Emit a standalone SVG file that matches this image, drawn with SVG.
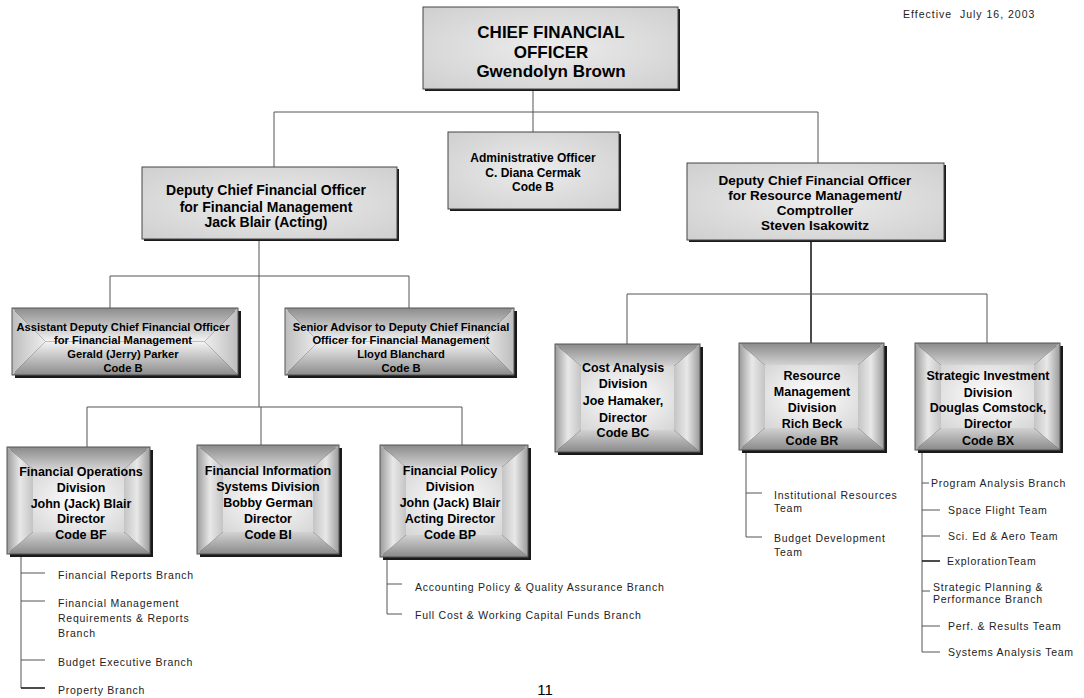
<svg xmlns="http://www.w3.org/2000/svg" width="1084" height="698" viewBox="0 0 1084 698">
<style>
text{font-family:"Liberation Sans",Arial,sans-serif;fill:#000;text-anchor:middle}
.b{font-weight:bold}
.t1{font-size:17px}
.t2{font-size:14px}
.t2r{font-size:13.5px}
.ta{font-size:12px}
.tx{font-size:11.2px}
.td{font-size:12.5px}
.tl{font-size:10.5px;letter-spacing:.75px;text-anchor:start;fill:#222}
.c{stroke:#555;stroke-width:1;fill:none}
.ck{stroke:#111;stroke-width:1.5;fill:none}
.sh{fill:#1a1a1a}
.bd{fill:none;stroke:#555;stroke-width:1}
.pl{fill:url(#pl);stroke:#444;stroke-width:1}
</style>
<defs>
<radialGradient id="pl" cx="0.5" cy="0.5" r="0.7"><stop offset="0" stop-color="#ececec"/><stop offset="1" stop-color="#cfcfcf"/></radialGradient>
<linearGradient id="gT" x1="0" y1="0" x2="0" y2="1"><stop offset="0" stop-color="#8a8a8a"/><stop offset="1" stop-color="#d2d2d2"/></linearGradient>
<linearGradient id="gB" x1="0" y1="0" x2="0" y2="1"><stop offset="0" stop-color="#d2d2d2"/><stop offset="1" stop-color="#8a8a8a"/></linearGradient>
<linearGradient id="gL" x1="0" y1="0" x2="1" y2="0"><stop offset="0" stop-color="#9a9a9a"/><stop offset="0.5" stop-color="#e8e8e8"/><stop offset="1" stop-color="#c4c4c4"/></linearGradient>
<linearGradient id="gR" x1="0" y1="0" x2="1" y2="0"><stop offset="0" stop-color="#c4c4c4"/><stop offset="0.5" stop-color="#e8e8e8"/><stop offset="1" stop-color="#9a9a9a"/></linearGradient>
<radialGradient id="gC" cx="0.5" cy="0.5" r="0.7"><stop offset="0" stop-color="#ffffff"/><stop offset="1" stop-color="#d6d6d6"/></radialGradient>
<linearGradient id="xT" x1="0" y1="0" x2="0" y2="1"><stop offset="0" stop-color="#8c8c8c"/><stop offset="1" stop-color="#f4f4f4"/></linearGradient>
<linearGradient id="xB" x1="0" y1="0" x2="0" y2="1"><stop offset="0" stop-color="#f4f4f4"/><stop offset="1" stop-color="#8c8c8c"/></linearGradient>
<linearGradient id="xL" x1="0" y1="0" x2="1" y2="0"><stop offset="0" stop-color="#bdbdbd"/><stop offset="1" stop-color="#eeeeee"/></linearGradient>
<linearGradient id="xR" x1="0" y1="0" x2="1" y2="0"><stop offset="0" stop-color="#eeeeee"/><stop offset="1" stop-color="#bdbdbd"/></linearGradient>
</defs>
<rect width="1084" height="698" fill="#fff"/>

<g id="connectors">
<path class="c" d="M533 90V132M274 112H818M274 112V167M818 112V163"/>
<path class="c" d="M259 240V407M110 276H409M110 276V308M409 276V308"/>
<path class="c" d="M87 407H462M87 407V447M261 407V445M462 407V445"/>
<path class="ck" d="M811 241V343"/>
<path class="c" d="M627 294H987M627 294V344M987 294V343"/>
<path class="c" d="M21 554V688M21 573H45M21 601H45M21 660H45"/>
<path class="ck" d="M21 688H45"/>
<path class="c" d="M387 557V614H402M387 584H402"/>
<path class="c" d="M746 450V537H762M746 493H762"/>
<path class="c" d="M922 450V652H940M922 483H929M922 510H940M922 536H940M922 591H930M922 626H940"/>
<path class="ck" d="M922 561H940"/>
</g>

<text class="tl" x="903" y="18" style="font-size:10.5px;letter-spacing:1px;white-space:pre">Effective  July 16, 2003</text>

<g id="cfo">
<rect class="sh" x="425" y="9" width="255" height="82"/>
<rect class="pl" x="423" y="7" width="255" height="82"/>
<text class="b t1" x="551" y="38">CHIEF FINANCIAL</text>
<text class="b t1" x="551" y="58">OFFICER</text>
<text class="b t1" x="551" y="77">Gwendolyn Brown</text>
</g>

<g id="admin">
<rect class="sh" x="450" y="134" width="171" height="77"/>
<rect class="pl" x="448" y="132" width="171" height="77"/>
<text class="b ta" x="533" y="162">Administrative Officer</text>
<text class="b ta" x="533" y="177">C. Diana Cermak</text>
<text class="b ta" x="533" y="191">Code B</text>
</g>

<g id="dep-fm">
<rect class="sh" x="144" y="169" width="255" height="72"/>
<rect class="pl" x="142" y="167" width="255" height="72"/>
<text class="b t2" x="266" y="195">Deputy Chief Financial Officer</text>
<text class="b t2" x="266" y="212">for Financial Management</text>
<text class="b t2" x="266" y="227">Jack Blair (Acting)</text>
</g>

<g id="dep-rm">
<rect class="sh" x="689" y="165" width="257" height="77"/>
<rect class="pl" x="687" y="163" width="257" height="77"/>
<text class="b t2r" x="815" y="185">Deputy Chief Financial Officer</text>
<text class="b t2r" x="815" y="200">for Resource Management/</text>
<text class="b t2r" x="815" y="215">Comptroller</text>
<text class="b t2r" x="815" y="230">Steven Isakowitz</text>
</g>

<g id="assistant">
<rect class="sh" x="15" y="311" width="226" height="67"/>
<polygon fill="url(#xT)" points="12,308 238,308 204.5,341.5 45.5,341.5"/>
<polygon fill="url(#xB)" points="12,375 238,375 204.5,341.5 45.5,341.5"/>
<polygon fill="url(#xL)" points="12,308 45.5,341.5 12,375"/>
<polygon fill="url(#xR)" points="238,308 204.5,341.5 238,375"/>
<rect class="bd" x="12" y="308" width="226" height="67"/>
<text class="b tx" x="123" y="331">Assistant Deputy Chief Financial Officer</text>
<text class="b tx" x="123" y="344">for Financial Management</text>
<text class="b tx" x="123" y="358">Gerald (Jerry) Parker</text>
<text class="b tx" x="123" y="372">Code B</text>
</g>

<g id="senior">
<rect class="sh" x="288" y="311" width="229" height="67"/>
<polygon fill="url(#xT)" points="285,308 514,308 480.5,341.5 318.5,341.5"/>
<polygon fill="url(#xB)" points="285,375 514,375 480.5,341.5 318.5,341.5"/>
<polygon fill="url(#xL)" points="285,308 318.5,341.5 285,375"/>
<polygon fill="url(#xR)" points="514,308 480.5,341.5 514,375"/>
<rect class="bd" x="285" y="308" width="229" height="67"/>
<text class="b tx" x="401" y="331">Senior Advisor to Deputy Chief Financial</text>
<text class="b tx" x="401" y="344">Officer for Financial Management</text>
<text class="b tx" x="401" y="358">Lloyd Blanchard</text>
<text class="b tx" x="401" y="372">Code B</text>
</g>

<g id="fin-ops">
<rect class="sh" x="10" y="450" width="143" height="107"/>
<polygon fill="url(#gT)" points="7,447 150,447 124,469 33,469"/>
<polygon fill="url(#gB)" points="7,554 150,554 124,532 33,532"/>
<polygon fill="url(#gL)" points="7,447 33,469 33,532 7,554"/>
<polygon fill="url(#gR)" points="150,447 124,469 124,532 150,554"/>
<rect fill="url(#gC)" x="33" y="469" width="91" height="63"/>
<rect class="bd" x="7" y="447" width="143" height="107"/>
<text class="b td" x="81" y="476">Financial Operations</text>
<text class="b td" x="81" y="492">Division</text>
<text class="b td" x="81" y="508">John (Jack) Blair</text>
<text class="b td" x="81" y="523">Director</text>
<text class="b td" x="81" y="539">Code BF</text>
</g>

<g id="fin-info">
<rect class="sh" x="200" y="448" width="142" height="109"/>
<polygon fill="url(#gT)" points="197,445 339,445 313,467 223,467"/>
<polygon fill="url(#gB)" points="197,554 339,554 313,532 223,532"/>
<polygon fill="url(#gL)" points="197,445 223,467 223,532 197,554"/>
<polygon fill="url(#gR)" points="339,445 313,467 313,532 339,554"/>
<rect fill="url(#gC)" x="223" y="467" width="90" height="65"/>
<rect class="bd" x="197" y="445" width="142" height="109"/>
<text class="b td" x="268" y="475">Financial Information</text>
<text class="b td" x="268" y="491">Systems Division</text>
<text class="b td" x="268" y="507">Bobby German</text>
<text class="b td" x="268" y="523">Director</text>
<text class="b td" x="268" y="539">Code BI</text>
</g>

<g id="fin-policy">
<rect class="sh" x="383" y="448" width="148" height="112"/>
<polygon fill="url(#gT)" points="380,445 528,445 502,467 406,467"/>
<polygon fill="url(#gB)" points="380,557 528,557 502,535 406,535"/>
<polygon fill="url(#gL)" points="380,445 406,467 406,535 380,557"/>
<polygon fill="url(#gR)" points="528,445 502,467 502,535 528,557"/>
<rect fill="url(#gC)" x="406" y="467" width="96" height="68"/>
<rect class="bd" x="380" y="445" width="148" height="112"/>
<text class="b td" x="450" y="475">Financial Policy</text>
<text class="b td" x="450" y="491">Division</text>
<text class="b td" x="450" y="507">John (Jack) Blair</text>
<text class="b td" x="450" y="523">Acting Director</text>
<text class="b td" x="450" y="539">Code BP</text>
</g>

<g id="cost">
<rect class="sh" x="558" y="347" width="145" height="108"/>
<polygon fill="url(#gT)" points="555,344 700,344 674,366 581,366"/>
<polygon fill="url(#gB)" points="555,452 700,452 674,430 581,430"/>
<polygon fill="url(#gL)" points="555,344 581,366 581,430 555,452"/>
<polygon fill="url(#gR)" points="700,344 674,366 674,430 700,452"/>
<rect fill="url(#gC)" x="581" y="366" width="93" height="64"/>
<rect class="bd" x="555" y="344" width="145" height="108"/>
<text class="b td" x="623" y="372">Cost Analysis</text>
<text class="b td" x="623" y="388">Division</text>
<text class="b td" x="623" y="405">Joe Hamaker,</text>
<text class="b td" x="623" y="422">Director</text>
<text class="b td" x="623" y="437">Code BC</text>
</g>

<g id="resource">
<rect class="sh" x="742" y="346" width="145" height="107"/>
<polygon fill="url(#gT)" points="739,343 884,343 858,365 765,365"/>
<polygon fill="url(#gB)" points="739,450 884,450 858,428 765,428"/>
<polygon fill="url(#gL)" points="739,343 765,365 765,428 739,450"/>
<polygon fill="url(#gR)" points="884,343 858,365 858,428 884,450"/>
<rect fill="url(#gC)" x="765" y="365" width="93" height="63"/>
<rect class="bd" x="739" y="343" width="145" height="107"/>
<text class="b td" x="812" y="380">Resource</text>
<text class="b td" x="812" y="396">Management</text>
<text class="b td" x="812" y="412">Division</text>
<text class="b td" x="812" y="428">Rich Beck</text>
<text class="b td" x="812" y="445">Code BR</text>
</g>

<g id="strategic">
<rect class="sh" x="918" y="346" width="145" height="107"/>
<polygon fill="url(#gT)" points="915,343 1060,343 1034,365 941,365"/>
<polygon fill="url(#gB)" points="915,450 1060,450 1034,428 941,428"/>
<polygon fill="url(#gL)" points="915,343 941,365 941,428 915,450"/>
<polygon fill="url(#gR)" points="1060,343 1034,365 1034,428 1060,450"/>
<rect fill="url(#gC)" x="941" y="365" width="93" height="63"/>
<rect class="bd" x="915" y="343" width="145" height="107"/>
<text class="b td" x="988" y="380">Strategic Investment</text>
<text class="b td" x="988" y="397">Division</text>
<text class="b td" x="988" y="412">Douglas Comstock,</text>
<text class="b td" x="988" y="428">Director</text>
<text class="b td" x="988" y="445">Code BX</text>
</g>

<g id="fin-ops-branches">
<text class="tl" x="58" y="579">Financial Reports Branch</text>
<text class="tl" x="58" y="607">Financial Management</text>
<text class="tl" x="58" y="622">Requirements &amp; Reports</text>
<text class="tl" x="58" y="637">Branch</text>
<text class="tl" x="58" y="666">Budget Executive Branch</text>
<text class="tl" x="58" y="694">Property Branch</text>
</g>

<g id="fin-policy-branches">
<text class="tl" x="415" y="591">Accounting Policy &amp; Quality Assurance Branch</text>
<text class="tl" x="415" y="619">Full Cost &amp; Working Capital Funds Branch</text>
</g>

<g id="resource-teams">
<text class="tl" x="774" y="499">Institutional Resources</text>
<text class="tl" x="774" y="512">Team</text>
<text class="tl" x="774" y="542">Budget Development</text>
<text class="tl" x="774" y="556">Team</text>
</g>

<g id="strategic-branches">
<text class="tl" x="931" y="487">Program Analysis Branch</text>
<text class="tl" x="948" y="514">Space Flight Team</text>
<text class="tl" x="948" y="540">Sci. Ed &amp; Aero Team</text>
<text class="tl" x="947" y="565">ExplorationTeam</text>
<text class="tl" x="933" y="591">Strategic Planning &amp;</text>
<text class="tl" x="933" y="603">Performance Branch</text>
<text class="tl" x="948" y="630">Perf. &amp; Results Team</text>
<text class="tl" x="948" y="656">Systems Analysis Team</text>
</g>

<text x="545" y="695" style="font-size:15px">11</text>
</svg>
